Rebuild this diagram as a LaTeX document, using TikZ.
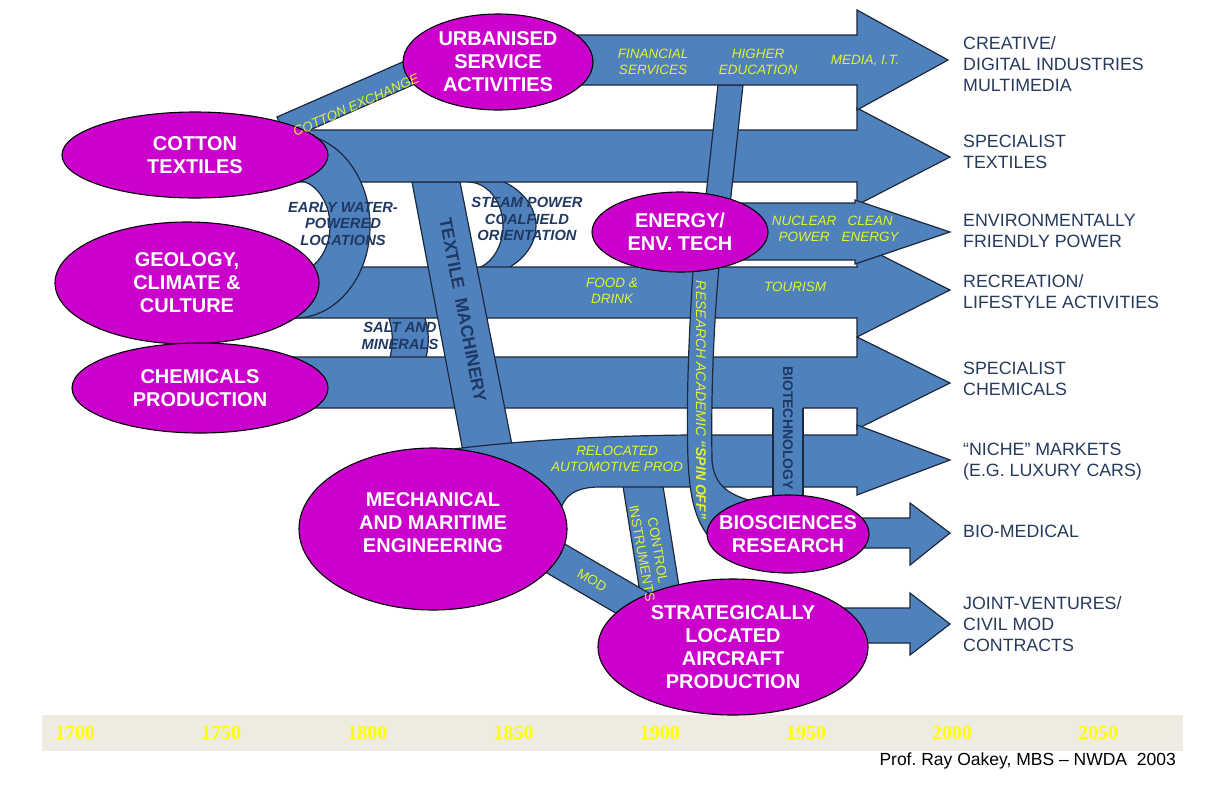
\documentclass[tikz,border=0pt]{standalone}
\usepackage{fontspec}
\setmainfont{Liberation Sans}
\newfontfamily\yearfont{Liberation Serif}
\usetikzlibrary{shapes.geometric}
\definecolor{bb}{RGB}{79,129,189}
\definecolor{ol}{RGB}{28,40,60}
\definecolor{mag}{RGB}{204,0,204}
\definecolor{yl}{RGB}{226,242,50}
\definecolor{nv}{RGB}{31,56,100}
\definecolor{rn}{RGB}{38,58,92}
\definecolor{beige}{RGB}{238,236,225}
\definecolor{yr}{RGB}{255,255,0}
\frenchspacing
\begin{document}
\begin{tikzpicture}[x=1pt,y=-1pt,
  shp/.style={fill=bb,draw=ol,line width=1.2pt,line join=miter},
  ell/.style={ellipse,fill=mag,draw=black,line width=1.1pt,inner sep=0pt},
  etx/.style={text=white,align=center,inner sep=0pt,font=\fontsize{20}{23}\selectfont\bfseries},
  lab/.style={text=yl,align=center,inner sep=0pt,font=\fontsize{13.5}{16}\selectfont\itshape},
  labup/.style={text=yl,align=center,inner sep=0pt,font=\fontsize{13.5}{16}\selectfont},
  nvl/.style={text=nv,align=center,inner sep=0pt,font=\fontsize{14.7}{16.5}\selectfont\bfseries\itshape},
  nvr/.style={text=nv,inner sep=0pt,font=\fontsize{#1}{#1}\selectfont\bfseries},
  outl/.style={text=rn,align=left,anchor=west,inner sep=0pt,font=\fontsize{17.8}{21}\selectfont},
  yrs/.style={text=yr,inner sep=0pt,font=\yearfont\fontsize{20}{20}\selectfont\bfseries}]
\useasboundingbox (0,0) rectangle (1214,807);

% timeline band
\fill[beige] (42,715) rectangle (1183,751);
\foreach \yy [count=\i from 0] in {1700,1750,...,2050}
  \node[yrs] (y\yy) at (75+\i*146.2,733) {\yy};
\node[anchor=east,inner sep=0pt,font=\fontsize{17.5}{20}\selectfont] (cred) at (1176,761) {Prof. Ray Oakey, MBS -- NWDA\ \ 2003};

% steam power arc
\path[shp] (468,174) .. controls (505.6,174) and (536,197.3) .. (536,226)
  .. controls (536,254.7) and (505.6,278) .. (468,278) -- (468,270)
  .. controls (487.3,270) and (503,250.3) .. (503,226)
  .. controls (503,201.7) and (487.3,182) .. (468,182) -- cycle;
% salt arc
\path[shp] (386,310) .. controls (394,330) and (394,345) .. (388,365) -- (424,365)
  .. controls (430,345) and (430,330) .. (422,310) -- cycle;

% arrow 4 recreation
\path[shp] (290,267) -- (857,267) -- (857,243) -- (950,290) -- (857,337) -- (857,318) -- (290,318) -- cycle;
% arrow 5 chemicals
\path[shp] (280,357) -- (857,357) -- (857,337) -- (950,383) -- (857,429) -- (857,408) -- (280,408) -- cycle;
% textile machinery
\path[shp] (412,182) -- (460,182) -- (514,455) -- (465,462) -- cycle;
% control instruments
\path[shp] (622,480) -- (662,480) -- (682,605) -- (642,605) -- cycle;
% MOD
\path[shp] (528.4,522.8) -- (658,598.4) -- (641,627.8) -- (511.3,552.2) -- cycle;
% arrow 6 automotive
\path[shp] (425,453) .. controls (470,446) and (560,436) .. (690,435) -- (857,435) -- (857,425) -- (950,460) -- (857,495) -- (857,487) -- (600,487)
  .. controls (573,487) and (563,497) .. (559,515) -- (430,510) -- cycle;
% arrow 2 textiles
\path[shp] (280,130) -- (857,130) -- (857,108) -- (950,157) -- (857,205) -- (857,182) -- (280,182) -- cycle;
% early water arc
\path[shp] (295,134) .. controls (336.4,134) and (370,175.2) .. (370,226)
  .. controls (370,276.8) and (336.4,318) .. (295,318) -- (295,272)
  .. controls (314.3,272) and (330,251.4) .. (330,226)
  .. controls (330,200.6) and (314.3,180) .. (295,180) -- cycle;
% higher education link
\path[shp] (718,85) -- (743,85) -- (730,205) -- (705,205) -- cycle;
% arrow 1 creative
\path[shp] (560,35) -- (857,35) -- (857,10) -- (948,60) -- (857,110) -- (857,85) -- (560,85) -- cycle;
% arrow 3 env power
\path[shp] (735,203) -- (855,203) -- (855,200) -- (950,232) -- (855,264) -- (855,260) -- (735,260) -- cycle;
% research spin off
\path[shp] (694,255) .. controls (689,330) and (686,400) .. (688,460)
  .. controls (690,505) and (698,530) .. (720,548) -- (768,505)
  .. controls (738,498) and (714,492) .. (712,460)
  .. controls (711,400) and (713,330) .. (720,255) -- cycle;
% biotechnology
\fill[bb] (773,407) rectangle (803,506);
\draw[ol,line width=1.2pt] (773,408) -- (773,506) (803,408) -- (803,506);
% cotton exchange
\path[shp] (277,117) -- (414,57) -- (424,80) -- (287,140) -- cycle;
% bio-medical arrow
\path[shp] (840,518) -- (910,518) -- (910,503) -- (950,533) -- (910,565) -- (910,548) -- (840,548) -- cycle;
% joint ventures arrow
\path[shp] (840,608) -- (910,608) -- (910,593) -- (950,624) -- (910,655) -- (910,643) -- (840,643) -- cycle;

% ellipses
\node[ell,minimum width=190pt,minimum height=96pt] (urb) at (498,62) {};
\node[ell,minimum width=266pt,minimum height=86pt] (cot) at (195,155) {};
\node[ell,minimum width=264pt,minimum height=122pt] (geo) at (187,283) {};
\node[ell,minimum width=256pt,minimum height=90pt] (chem) at (200,388) {};
\node[ell,minimum width=176pt,minimum height=80pt] (ener) at (680,232) {};
\node[ell,minimum width=268pt,minimum height=162pt] (mech) at (433,529) {};
\node[ell,minimum width=162pt,minimum height=78pt] (bio) at (788,534) {};
\node[ell,minimum width=270pt,minimum height=136pt] (air) at (733,647) {};

\node[etx] (urbt) at (urb.center) {URBANISED\\SERVICE\\ACTIVITIES};
\node[etx] (cott) at (cot.center) {COTTON\\TEXTILES};
\node[etx] (geot) at (geo.center) {GEOLOGY,\\CLIMATE \&\\CULTURE};
\node[etx] (chemt) at (chem.center) {CHEMICALS\\PRODUCTION};
\node[etx] (enert) at (ener.center) {ENERGY/\\ENV. TECH};
\node[etx] (mecht) at (433,523) {MECHANICAL\\AND MARITIME\\ENGINEERING};
\node[etx] (biot) at (bio.center) {BIOSCIENCES\\RESEARCH};
\node[etx] (airt) at (air.center) {STRATEGICALLY\\LOCATED\\AIRCRAFT\\PRODUCTION};

% yellow labels
\node[lab] (l1) at (653,62) {FINANCIAL\\SERVICES};
\node[lab] (l2) at (758,62) {HIGHER\\EDUCATION};
\node[lab] (l3) at (865,61) {MEDIA, I.T.};
\node[lab] (l4) at (804,229) {NUCLEAR\\POWER};
\node[lab] (l5) at (870,229) {CLEAN\\ENERGY};
\node[lab] (l6) at (612,291) {FOOD \&\\DRINK};
\node[lab] (l7) at (795,287) {TOURISM};
\node[lab] (l8) at (617,459) {RELOCATED\\AUTOMOTIVE PROD};
\node[lab,rotate=24] (l9) at (356,105) {COTTON EXCHANGE};
\node[labup,rotate=-80] (l10) at (650,552) {CONTROL\\INSTRUMENTS};
\node[labup,rotate=-30] (l11) at (592,580) {MOD};
\node[lab,rotate=-90,font=\fontsize{14}{16}\selectfont\itshape] (l12) at (701,400) {RESEARCH ACADEMIC \textbf{“SPIN OFF”}};

% navy labels
\node[nvl] (n1) at (343,224) {EARLY WATER-\\POWERED\\LOCATIONS};
\node[nvl] (n2) at (527,219) {STEAM POWER\\COALFIELD\\ORIENTATION};
\node[nvl] (n3) at (400,336) {SALT AND\\MINERALS};
\node[nvr=17.5,rotate=-79] (n4) at (463,310) {TEXTILE\ \ MACHINERY};
\node[nvr=14,rotate=-90] (n5) at (788,428) {BIOTECHNOLOGY};

% outcome labels
\node[outl] (o1) at (963,64) {CREATIVE/\\DIGITAL INDUSTRIES\\MULTIMEDIA};
\node[outl] (o2) at (963,151.5) {SPECIALIST\\TEXTILES};
\node[outl] (o3) at (963,230.5) {ENVIRONMENTALLY\\FRIENDLY POWER};
\node[outl] (o4) at (963,291.5) {RECREATION/\\LIFESTYLE ACTIVITIES};
\node[outl] (o5) at (963,378.5) {SPECIALIST\\CHEMICALS};
\node[outl] (o6) at (963,461.5) {“NICHE” MARKETS\\(E.G. LUXURY CARS)};
\node[outl] (o7) at (963,531) {BIO-MEDICAL};
\node[outl] (o8) at (963,624) {JOINT-VENTURES/\\CIVIL MOD\\CONTRACTS};
\end{tikzpicture}
\end{document}
